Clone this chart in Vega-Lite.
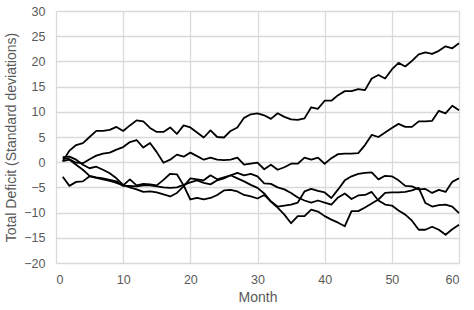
{
  "$schema": "https://vega.github.io/schema/vega-lite/v6.json",
  "width": 403,
  "height": 252,
  "autosize": "none",
  "padding": {"left": 56, "top": 11, "right": 15, "bottom": 47},
  "background": "white",
  "data": {"values": [
    {"m":1,"A":0.2,"B":0.8,"C":1.0,"D":0.2,"E":-2.9},
    {"m":2,"A":2.3,"B":0.6,"C":1.1,"D":0.5,"E":-4.7},
    {"m":3,"A":3.4,"B":-0.1,"C":0.5,"D":-0.5,"E":-3.9},
    {"m":4,"A":3.8,"B":-0.2,"C":-0.5,"D":-1.5,"E":-3.8},
    {"m":5,"A":5.0,"B":0.6,"C":-1.2,"D":-2.7,"E":-2.8},
    {"m":6,"A":6.2,"B":1.3,"C":-0.9,"D":-3.0,"E":-3.1},
    {"m":7,"A":6.2,"B":1.7,"C":-1.5,"D":-3.2,"E":-3.4},
    {"m":8,"A":6.4,"B":1.9,"C":-2.2,"D":-3.5,"E":-3.7},
    {"m":9,"A":7.0,"B":2.5,"C":-3.2,"D":-3.8,"E":-4.1},
    {"m":10,"A":6.2,"B":3.0,"C":-4.5,"D":-4.7,"E":-4.6},
    {"m":11,"A":7.3,"B":4.0,"C":-5.0,"D":-4.7,"E":-3.4},
    {"m":12,"A":8.3,"B":4.4,"C":-5.4,"D":-4.8,"E":-4.6},
    {"m":13,"A":8.1,"B":2.9,"C":-5.9,"D":-4.6,"E":-4.3},
    {"m":14,"A":6.8,"B":3.8,"C":-5.8,"D":-4.6,"E":-4.4},
    {"m":15,"A":6.0,"B":2.0,"C":-6.0,"D":-4.8,"E":-4.6},
    {"m":16,"A":6.0,"B":-0.1,"C":-6.4,"D":-5.0,"E":-3.5},
    {"m":17,"A":6.9,"B":0.5,"C":-6.8,"D":-5.1,"E":-2.3},
    {"m":18,"A":5.6,"B":1.5,"C":-6.1,"D":-5.0,"E":-2.4},
    {"m":19,"A":7.3,"B":1.1,"C":-4.8,"D":-4.5,"E":-4.6},
    {"m":20,"A":6.9,"B":1.9,"C":-3.2,"D":-4.0,"E":-7.4},
    {"m":21,"A":5.9,"B":1.2,"C":-3.4,"D":-3.6,"E":-7.1},
    {"m":22,"A":4.9,"B":0.5,"C":-3.6,"D":-4.1,"E":-7.4},
    {"m":23,"A":6.3,"B":0.9,"C":-2.6,"D":-4.4,"E":-7.1},
    {"m":24,"A":5.0,"B":0.5,"C":-3.4,"D":-3.6,"E":-6.5},
    {"m":25,"A":4.9,"B":0.4,"C":-3.0,"D":-3.2,"E":-5.6},
    {"m":26,"A":6.2,"B":0.5,"C":-2.6,"D":-2.6,"E":-5.5},
    {"m":27,"A":6.9,"B":0.9,"C":-2.1,"D":-3.2,"E":-5.8},
    {"m":28,"A":8.8,"B":-0.5,"C":-2.6,"D":-3.8,"E":-6.5},
    {"m":29,"A":9.5,"B":-0.3,"C":-2.3,"D":-4.5,"E":-6.8},
    {"m":30,"A":9.7,"B":-0.1,"C":-2.8,"D":-5.1,"E":-7.2},
    {"m":31,"A":9.3,"B":-1.4,"C":-4.2,"D":-6.2,"E":-6.5},
    {"m":32,"A":8.6,"B":-0.5,"C":-4.3,"D":-7.8,"E":-7.8},
    {"m":33,"A":9.7,"B":-1.5,"C":-5.0,"D":-9.0,"E":-8.8},
    {"m":34,"A":9.0,"B":-1.0,"C":-5.4,"D":-10.4,"E":-8.6},
    {"m":35,"A":8.5,"B":-0.3,"C":-6.1,"D":-12.1,"E":-8.4},
    {"m":36,"A":8.4,"B":-0.3,"C":-7.0,"D":-10.7,"E":-8.0},
    {"m":37,"A":8.7,"B":0.9,"C":-7.6,"D":-10.7,"E":-5.8},
    {"m":38,"A":10.9,"B":0.5,"C":-8.0,"D":-9.4,"E":-5.3},
    {"m":39,"A":10.6,"B":0.9,"C":-7.6,"D":-9.8,"E":-5.7},
    {"m":40,"A":12.2,"B":-0.3,"C":-8.0,"D":-10.7,"E":-6.0},
    {"m":41,"A":12.2,"B":0.8,"C":-8.4,"D":-11.4,"E":-7.1},
    {"m":42,"A":13.3,"B":1.6,"C":-7.0,"D":-12.0,"E":-5.4},
    {"m":43,"A":14.1,"B":1.7,"C":-6.2,"D":-12.7,"E":-3.6},
    {"m":44,"A":14.1,"B":1.7,"C":-7.3,"D":-9.7,"E":-2.8},
    {"m":45,"A":14.5,"B":1.8,"C":-6.6,"D":-9.7,"E":-2.3},
    {"m":46,"A":14.3,"B":3.4,"C":-6.5,"D":-9.0,"E":-2.1},
    {"m":47,"A":16.6,"B":5.4,"C":-5.9,"D":-8.2,"E":-2.0},
    {"m":48,"A":17.3,"B":5.0,"C":-7.6,"D":-7.4,"E":-3.4},
    {"m":49,"A":16.6,"B":5.9,"C":-8.4,"D":-6.1,"E":-2.7},
    {"m":50,"A":18.4,"B":6.8,"C":-8.6,"D":-6.0,"E":-2.8},
    {"m":51,"A":19.7,"B":7.6,"C":-9.6,"D":-6.0,"E":-3.6},
    {"m":52,"A":19.0,"B":7.0,"C":-10.4,"D":-5.9,"E":-4.7},
    {"m":53,"A":20.1,"B":7.0,"C":-11.6,"D":-5.6,"E":-4.8},
    {"m":54,"A":21.4,"B":8.1,"C":-13.4,"D":-5.1,"E":-5.4},
    {"m":55,"A":21.8,"B":8.1,"C":-13.4,"D":-8.1,"E":-5.3},
    {"m":56,"A":21.5,"B":8.2,"C":-12.8,"D":-8.8,"E":-6.1},
    {"m":57,"A":22.1,"B":10.2,"C":-13.4,"D":-8.5,"E":-5.5},
    {"m":58,"A":23.0,"B":9.7,"C":-14.4,"D":-8.4,"E":-5.9},
    {"m":59,"A":22.6,"B":11.2,"C":-13.3,"D":-8.8,"E":-3.9},
    {"m":60,"A":23.6,"B":10.3,"C":-12.4,"D":-10.1,"E":-3.2}
  ]},
  "transform": [{"fold": ["A", "B", "C", "D", "E"], "as": ["series", "value"]}],
  "mark": {"type": "line", "color": "black", "strokeWidth": 1.8, "strokeJoin": "round"},
  "encoding": {
    "x": {
      "field": "m", "type": "quantitative",
      "scale": {"domain": [0, 60], "nice": false, "zero": false},
      "axis": {"title": "Month", "values": [0, 10, 20, 30, 40, 50, 60], "labelPadding": 10, "titlePadding": 5}
    },
    "y": {
      "field": "value", "type": "quantitative",
      "scale": {"domain": [-20, 30], "nice": false, "zero": false},
      "axis": {"title": "Total Deficit (Standard deviations)", "values": [-20, -15, -10, -5, 0, 5, 10, 15, 20, 25, 30], "labelPadding": 11, "titlePadding": 5}
    },
    "detail": {"field": "series", "type": "nominal"}
  },
  "config": {
    "view": {"stroke": null},
    "axis": {
      "domain": false,
      "ticks": false,
      "grid": true,
      "gridColor": "#d9d9d9",
      "gridWidth": 1.3,
      "labelColor": "#595959",
      "labelFont": "Liberation Sans",
      "labelFontSize": 12.5,
      "titleColor": "#595959",
      "titleFont": "Liberation Sans",
      "titleFontSize": 14,
      "titleFontWeight": "normal"
    }
  }
}
